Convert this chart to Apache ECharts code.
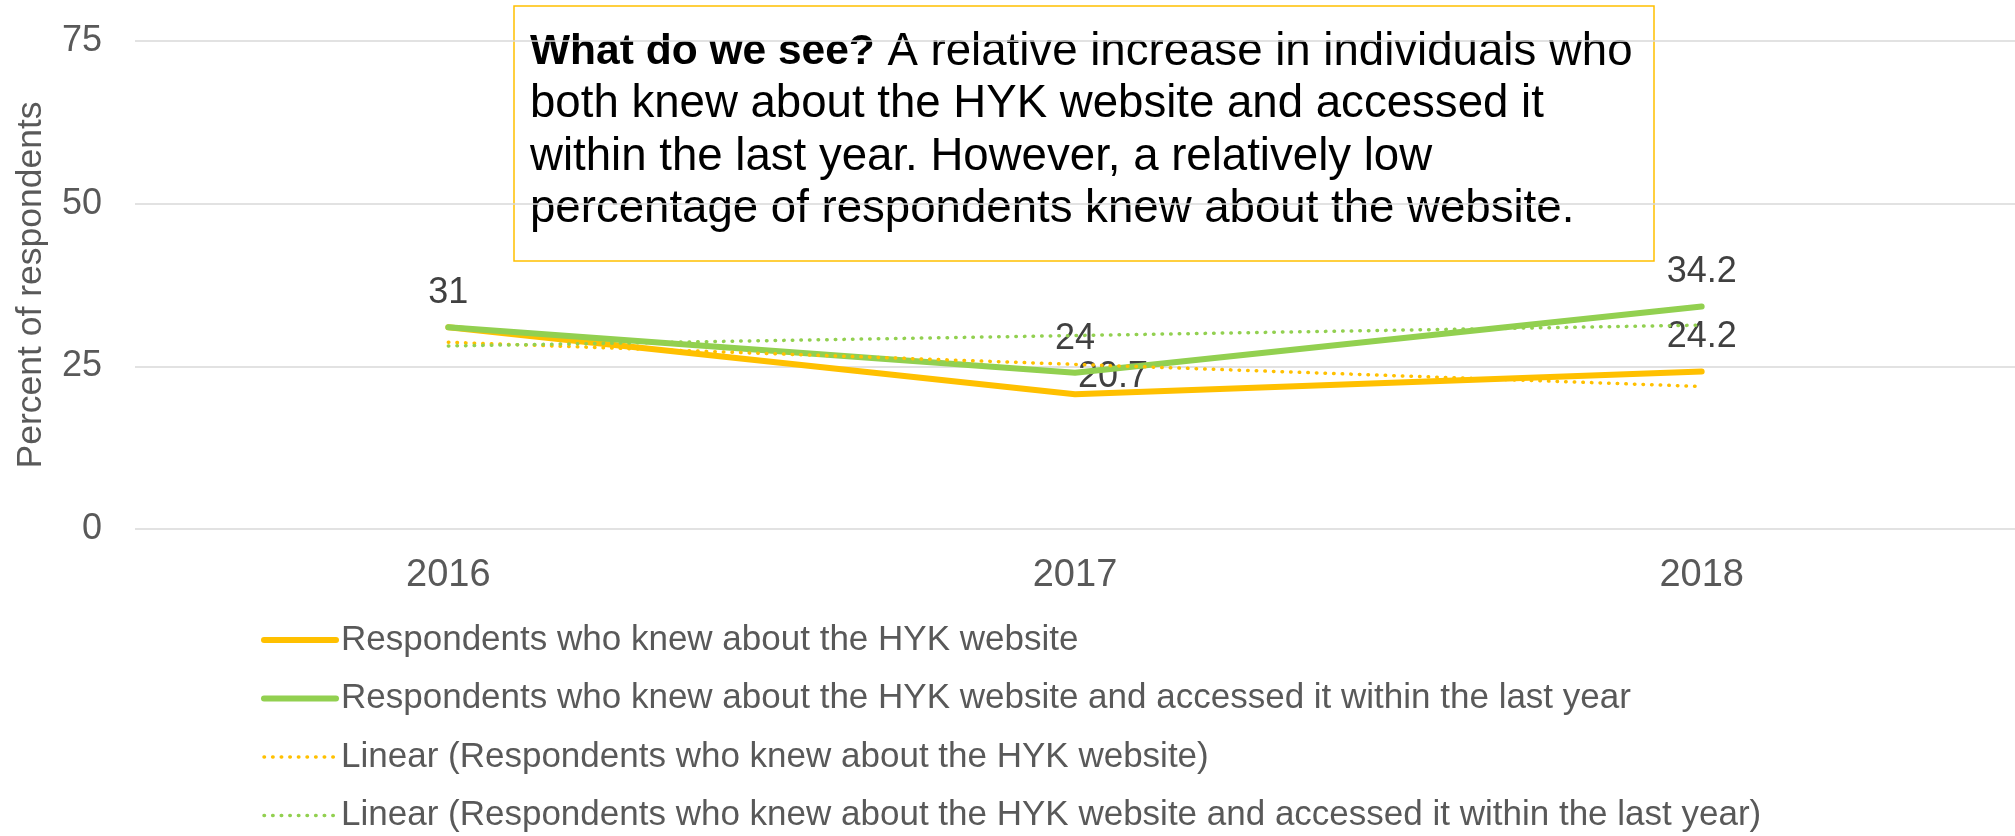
<!DOCTYPE html>
<html>
<head>
<meta charset="utf-8">
<script src="https://cdn.jsdelivr.net/npm/echarts@6/dist/echarts.min.js"></script>
<style>
  html, body { margin: 0; padding: 0; background: #ffffff; }
  #chart { width: 2015px; height: 836px; }
</style>
</head>
<body>
<div id="chart"></div>
<script>
// Survey years on the category axis
const years = ['2016', '2017', '2018'];

// Percent of respondents per year
const knewWebsite = [31, 20.7, 24.2];
const knewAndAccessed = [31, 24, 34.2];

// Value axis range
const yMin = 0;
const yMax = 75;
const yStep = 25;

const seriesNames = [
  'Respondents who knew about the HYK website',
  'Respondents who knew about the HYK website and accessed it within the last year',
  'Linear (Respondents who knew about the HYK website)',
  'Linear (Respondents who knew about the HYK website and accessed it within the last year)'
];

const YELLOW = '#FFC000';
const GREEN = '#92D050';
const FONT = "'Liberation Sans', Arial, sans-serif";

// Least-squares straight line through a series, evaluated at each category index
function linearTrend(values) {
  const n = values.length;
  const xs = values.map((_, i) => i + 1);
  const mx = xs.reduce((a, b) => a + b, 0) / n;
  const my = values.reduce((a, b) => a + b, 0) / n;
  let sxy = 0, sxx = 0;
  for (let i = 0; i < n; i++) {
    sxy += (xs[i] - mx) * (values[i] - my);
    sxx += (xs[i] - mx) * (xs[i] - mx);
  }
  const slope = sxy / sxx;
  return xs.map(x => +(my + slope * (x - mx)).toFixed(3));
}

const labelStyle = {
  show: true,
  position: 'top',
  distance: 14,
  color: '#404040',
  fontSize: 36,
  fontFamily: FONT
};

// Value labels; the 2016 value is shared by both lines so it is labelled once
function withLabels(values, hidden, offsets) {
  return values.map((v, i) => {
    const item = { value: v };
    if (hidden.indexOf(i) >= 0) item.label = { show: false };
    else if (offsets[i]) item.label = { offset: offsets[i] };
    return item;
  });
}

const chart = echarts.init(document.getElementById('chart'), null, { renderer: 'canvas' });

const dotted = { width: 3.5, type: [0.5, 8.1], cap: 'round' };

chart.setOption({
  animation: false,
  backgroundColor: '#ffffff',
  grid: { left: 135, right: -4, top: 41, bottom: 307, containLabel: false },
  xAxis: {
    type: 'category',
    data: years,
    boundaryGap: true,
    axisLine: { show: false },
    axisTick: { show: false },
    axisLabel: { color: '#595959', fontSize: 38, fontFamily: FONT, margin: 28 }
  },
  yAxis: {
    type: 'value',
    min: yMin,
    max: yMax,
    interval: yStep,
    name: 'Percent of respondents',
    nameLocation: 'middle',
    nameGap: 86,
    nameTextStyle: { color: '#595959', fontSize: 35.5, fontFamily: FONT },
    axisLine: { show: false },
    axisTick: { show: false },
    axisLabel: { color: '#595959', fontSize: 36, fontFamily: FONT, margin: 33 },
    splitLine: { lineStyle: { color: '#D9D9D9', width: 1.5 } }
  },
  legend: {
    orient: 'vertical',
    left: 261,
    top: 621,
    height: 215,
    padding: 0,
    itemWidth: 72,
    itemHeight: 14,
    itemGap: 20.5,
    data: seriesNames,
    itemStyle: { color: 'rgba(0,0,0,0)', borderWidth: 0 },
    lineStyle: { width: 'inherit' },
    textStyle: { color: '#595959', fontSize: 35, fontFamily: FONT, lineHeight: 38 }
  },
  series: [
    {
      name: seriesNames[0],
      type: 'line',
      data: withLabels(knewWebsite, [0], { 1: [38, 17] }),
      symbol: 'circle',
      symbolSize: 4,
      lineStyle: { color: YELLOW, width: 6, cap: 'round', join: 'round' },
      itemStyle: { color: YELLOW },
      label: labelStyle,
      z: 2
    },
    {
      name: seriesNames[1],
      type: 'line',
      data: withLabels(knewAndAccessed, [], {}),
      symbol: 'circle',
      symbolSize: 4,
      lineStyle: { color: GREEN, width: 6, cap: 'round', join: 'round' },
      itemStyle: { color: GREEN },
      label: labelStyle,
      z: 3
    },
    {
      name: seriesNames[2],
      type: 'line',
      data: linearTrend(knewWebsite),
      symbol: 'none',
      lineStyle: Object.assign({ color: YELLOW }, dotted),
      itemStyle: { color: YELLOW },
      z: 4
    },
    {
      name: seriesNames[3],
      type: 'line',
      data: linearTrend(knewAndAccessed),
      symbol: 'none',
      lineStyle: Object.assign({ color: GREEN }, dotted),
      itemStyle: { color: GREEN },
      z: 5
    }
  ],
  graphic: [
    {
      type: 'group',
      z: 10,
      children: [
        {
          type: 'rect',
          shape: { x: 514, y: 6, width: 1140, height: 255 },
          style: { fill: 'rgba(0,0,0,0)', stroke: YELLOW, lineWidth: 1.5 }
        },
        {
          type: 'text',
          x: 530,
          y: 26,
          style: {
            text: '{b|What do we see?} A relative increase in individuals who\n' +
                  'both knew about the HYK website and accessed it\n' +
                  'within the last year. However, a relatively low\n' +
                  'percentage of respondents knew about the website.',
            fill: '#000000',
            font: "45.6px 'Liberation Sans', Arial, sans-serif",
            lineHeight: 52.5,
            rich: {
              b: { fontWeight: 'bold', fontSize: 42.5, fontFamily: FONT, lineHeight: 52.5, fill: '#000000' }
            }
          }
        }
      ]
    }
  ]
});
</script>
</body>
</html>
